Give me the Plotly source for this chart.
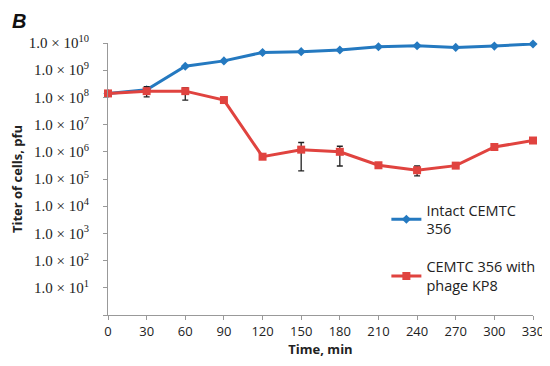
import plotly.graph_objects as go

time_min = [0, 30, 60, 90, 120, 150, 180, 210, 240, 270, 300, 330]
intact = [1.4e8, 1.9e8, 1.4e9, 2.2e9, 4.5e9, 4.8e9, 5.5e9, 7.3e9, 7.9e9, 6.9e9, 7.7e9, 9.2e9]
phage = [1.4e8, 1.7e8, 1.7e8, 8.0e7, 6.6e5, 1.2e6, 1.0e6, 3.2e5, 2.1e5, 3.1e5, 1.5e6, 2.6e6]
phage_err_plus = [0, 0.8e8, 0.6e8, 0, 0, 1.0e6, 0.6e6, 0, 0.9e5, 0.4e5, 0, 0]
phage_err_minus = [0, 0.65e8, 0.9e8, 0, 0, 1.0e6, 0.7e6, 0, 0.8e5, 0.6e5, 0, 0]
ytick_exp = list(range(1, 11))

blue = "#2479c0"
red = "#e0433f"

fig = go.Figure()
fig.add_trace(go.Scatter(
    x=time_min, y=intact, mode="lines+markers", name="Intact CEMTC<br>356",
    legendgroup="a",
    line=dict(color=blue, width=3), marker=dict(symbol="diamond", size=7, color=blue),
    cliponaxis=False))
fig.add_trace(go.Scatter(
    x=time_min, y=phage, mode="lines+markers", name="CEMTC 356 with<br>phage KP8",
    legendgroup="b",
    line=dict(color=red, width=3), marker=dict(symbol="square", size=8, color=red),
    error_y=dict(type="data", array=phage_err_plus, arrayminus=phage_err_minus,
                 color="#222222", thickness=1.3, width=3),
    cliponaxis=False))

fig.update_layout(
    width=542, height=358,
    margin=dict(l=100, r=17, t=35, b=51, autoexpand=False),
    paper_bgcolor="white", plot_bgcolor="white",
    font=dict(family="Open Sans, sans-serif", size=12, color="#222222"),
    showlegend=True,
    legend=dict(x=0.655, y=0.445, xanchor="left", yanchor="top",
                font=dict(family="Open Sans, sans-serif", size=14.5, color="#222"),
                tracegroupgap=16, bgcolor="rgba(0,0,0,0)", itemwidth=30),
    xaxis=dict(range=[0, 330], tickvals=time_min, ticks="outside", ticklen=4,
               tickcolor="#999", showline=True, linecolor="#999", linewidth=1,
               showgrid=False, zeroline=False, automargin=False,
               tickfont=dict(size=13, family="Open Sans, sans-serif"),
               title=dict(text="<b>Time, min</b>", font=dict(size=13), standoff=3)),
    yaxis=dict(type="log", range=[0, 10],
               tickvals=[1] + [10 ** e for e in ytick_exp],
               ticktext=[""] + ["1.0 × 10<sup>%d</sup>" % e for e in ytick_exp],
               ticks="outside", ticklen=4, tickcolor="#999",
               showline=True, linecolor="#999", linewidth=1,
               showgrid=False, zeroline=False, automargin=False,
               ticklabelstandoff=11,
               tickfont=dict(family="Liberation Serif, serif", size=15),
               title=dict(text="<b>Titer of cells, pfu</b>", font=dict(size=13), standoff=9)),
)
fig.add_annotation(text="<b><i>B</i></b>", xref="paper", yref="paper",
                   x=-98/425, y=1 + 35/272, xanchor="left", yanchor="top",
                   showarrow=False, font=dict(size=20, family="Liberation Sans, sans-serif", color="#111"))

fig.write_html("out.html")
